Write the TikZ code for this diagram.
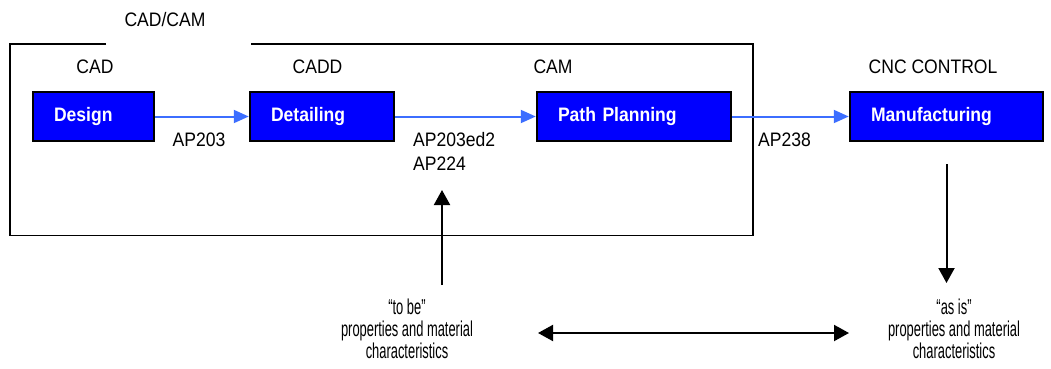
\documentclass[tikz,border=0pt]{standalone}
\usepackage{fontspec}
\setmainfont{Liberation Sans}
\newfontfamily\topf{Liberation Sans}[FakeStretch=0.9]
\newfontfamily\botf{Liberation Sans}[FakeStretch=0.6]
\usetikzlibrary{arrows.meta}
\definecolor{flowblue}{RGB}{60,110,255}
\definecolor{boxblue}{RGB}{0,0,255}
\begin{document}
\begin{tikzpicture}[x=1pt,y=-1pt,
  lbl/.style={inner sep=0pt,font=\topf\fontsize{19.5}{22.5}\selectfont},
  bot/.style={inner sep=0pt,align=center,font=\botf\fontsize{21.5}{22}\selectfont},
  proc/.style={draw=black,line width=2.5pt,fill=boxblue,text=white,
    font=\topf\bfseries\fontsize{19.5}{22}\selectfont,
    minimum height=49pt,inner xsep=21pt,align=left,text height=14pt,text depth=4pt},
  flow/.style={draw=flowblue,line width=2pt,-{Triangle[length=15pt,width=13pt]}},
  blk/.style={draw=black,line width=2pt},
  blkarrow/.style={blk,-{Triangle[length=15pt,width=16pt]}}]
\useasboundingbox (0,0) rectangle (1051,369);
% outer CAD/CAM frame
\draw[line width=1.6pt] (106,44) -- (10,44) -- (10,235.5) -- (753,235.5) -- (753,44) -- (251,44);
\node[lbl,anchor=base] (cadcam) at (165,26.7) {CAD/CAM};
% stage labels
\node[lbl,anchor=base] (lcad) at (95,74) {CAD};
\node[lbl,anchor=base] (lcadd) at (317.5,74) {CADD};
\node[lbl,anchor=base] (lcam) at (553,74) {CAM};
\node[lbl,anchor=base] (lcnc) at (933,74) {CNC CONTROL};
% process boxes
\node[proc,text width=79pt] (design) at (93.5,116.5) {Design};
\node[proc,text width=102pt] (detail) at (322,116.5) {Detailing};
\node[proc,text width=152pt] (path) at (634,116.5) {Path Planning};
\node[proc,text width=151pt] (manu) at (946.5,116.5) {Manufacturing};
% flows
\draw[flow] (design) -- (detail);
\draw[flow] (detail) -- (path);
\draw[flow] (path) -- (manu);
% AP labels
\node[lbl,anchor=base] (ap203) at (199,146) {AP203};
\node[lbl,anchor=base west] (ap203ed2) at (413,146) {AP203ed2};
\node[lbl,anchor=base west] (ap224) at (413,170) {AP224};
\node[lbl,anchor=base west] (ap238) at (758,146) {AP238};
% bottom texts
\node[bot,anchor=north] (tobe) at (407,299) {“to be”\\properties and material\\characteristics};
\node[bot,anchor=north] (asis) at (954,299) {“as is”\\properties and material\\characteristics};
% vertical arrows
\coordinate (upS) at (442,285);
\coordinate (upE) at (442,190);
\coordinate (dnS) at (946.5,164);
\coordinate (dnE) at (946.5,283);
\draw[blkarrow] (upS) -- (upE);
\draw[blkarrow] (dnS) -- (dnE);
% double arrow
\coordinate (hL) at (538,333);
\coordinate (hR) at (849,333);
\draw[blk,{Triangle[length=15pt,width=16pt]}-{Triangle[length=15pt,width=16pt]}] (hL) -- (hR);
\end{tikzpicture}
\end{document}
